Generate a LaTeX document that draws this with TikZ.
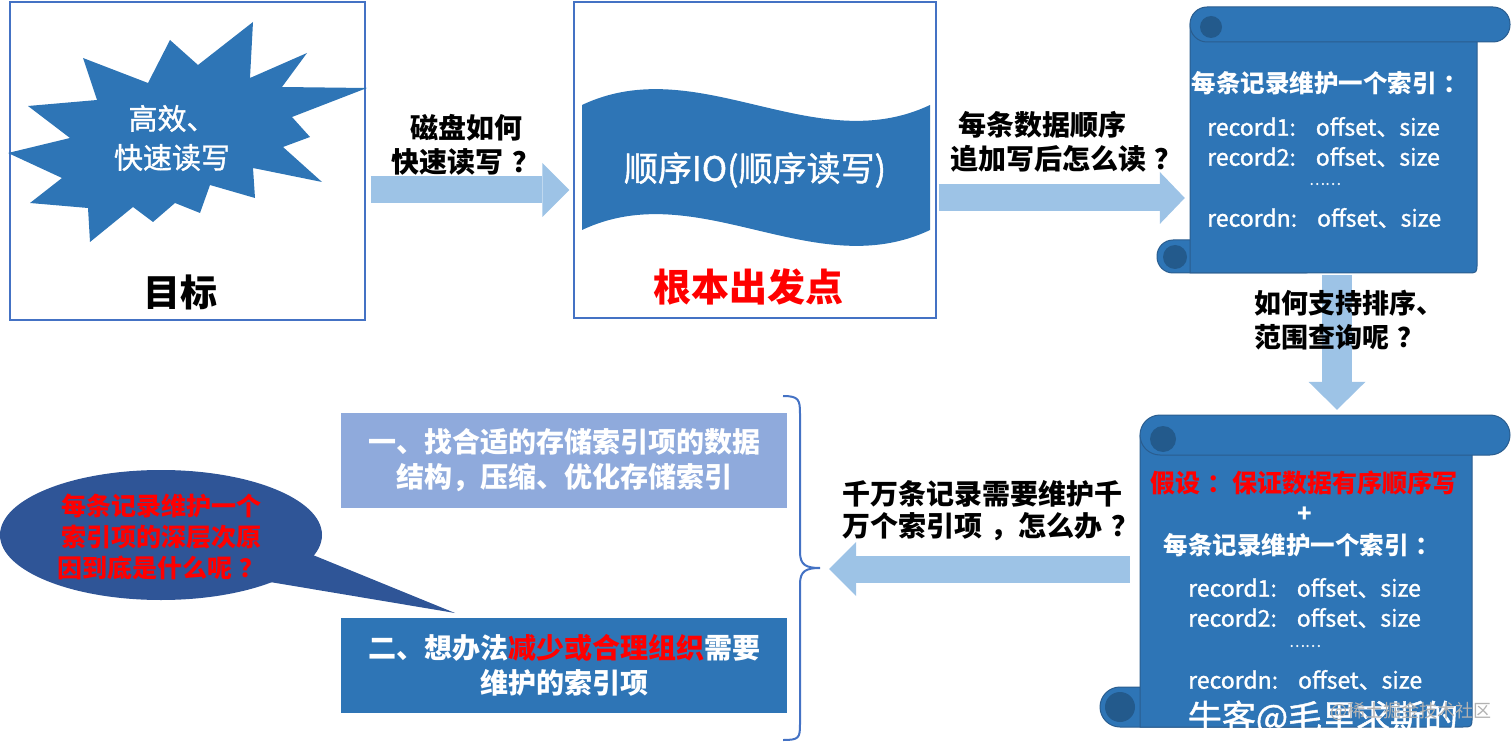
\documentclass[tikz,border=0pt]{standalone}
\usepackage{fontspec}
\setmainfont{Noto Sans CJK SC}
\newfontfamily\medf{Noto Sans CJK SC}[FakeBold=1.2]
\usetikzlibrary{arrows.meta}
\definecolor{frame}{HTML}{4472C4}
\definecolor{mblue}{HTML}{2E75B6}
\definecolor{dblue}{HTML}{2F5597}
\definecolor{lblue}{HTML}{9DC3E6}
\definecolor{pblue}{HTML}{8FAADC}
\definecolor{curl}{HTML}{235A8C}
\definecolor{sline}{HTML}{2A5D8F}
\definecolor{wred}{HTML}{FF0000}
\newcommand{\qm}{\hspace{0.3em}？}
\newcommand{\cn}{\hspace{0.3em}：}
\begin{document}
\begin{tikzpicture}[x=1pt,y=-1pt,
  panel/.style={draw=frame, line width=1.2pt, inner sep=0pt},
  bigarrow/.style={draw=lblue, line width=27pt, -{Triangle[length=27pt,width=54pt,line width=0pt]}},
  qlabel/.style={font=\bfseries\fontsize{28}{34}\selectfont, align=center, inner sep=0pt},
  scrollpart/.style={fill=mblue, draw=sline, line width=1pt},
  rec/.style={text=white, font=\medf\fontsize{23}{28}\selectfont, inner sep=0pt, anchor=west},
  dots/.style={text=white, font=\medf\fontsize{15}{16}\selectfont, inner sep=0pt},
  hdr/.style={text=white, font=\bfseries\fontsize{24.5}{30}\selectfont, inner sep=0pt},
  sol/.style={text=white, font=\bfseries\fontsize{28}{35}\selectfont, align=center, inner sep=0pt, minimum width=446pt, minimum height=95pt}
]
\useasboundingbox (0,0) rectangle (1512,743);

% ---- goal panel
\node[panel, minimum width=355pt, minimum height=318pt] (goal) at (187.5,161) {};
\fill[mblue] (253,22) -- (250,78) -- (307,53) -- (282,87) -- (367,88) -- (292,117) -- (310,137) -- (283,147) -- (322,182) -- (253,168) -- (255,198) -- (210,185) -- (200,213) -- (175,203) -- (153,222) -- (133,207) -- (90,242) -- (88,208) -- (30,203) -- (62,178) -- (8,153) -- (70,138) -- (28,106) -- (97,100) -- (83,58) -- (148,83) -- (170,40) -- (198,65) -- cycle;
\node[text=white, font=\medf\fontsize{29}{39}\selectfont, align=center, inner sep=0pt] (burst) at (172,138) {高效、\\快速读写};
\node[font=\bfseries\fontsize{37}{40}\selectfont, inner sep=0pt] (goaltxt) at (180,292) {目标};

% ---- sequential IO panel
\node[panel, minimum width=362pt, minimum height=316pt] (io) at (755,160) {};
\fill[mblue] (582,105) .. controls (698,50) and (814,160) .. (930,105) -- (930,230) .. controls (814,285) and (698,175) .. (582,230) -- cycle;
\node[text=white, font=\medf\fontsize{34}{40}\selectfont, inner sep=0pt] (iotxt) at (755,170) {顺序IO(顺序读写)};
\node[text=wred, font=\bfseries\fontsize{38}{42}\selectfont, inner sep=0pt] (root) at (748,287) {根本出发点};

% ---- scroll 1
\filldraw[scrollpart, rounded corners=16pt] (1157,240) rectangle (1320,273);
\filldraw[scrollpart] (1190,24) -- (1477,24) -- (1477,263) .. controls (1477,273) .. (1467,273) -- (1190,273) -- cycle;
\fill[curl] (1175,257) circle (12pt);
\filldraw[scrollpart, rounded corners=17pt] (1190,7) rectangle (1510,42);
\fill[curl] (1211,27) circle (11pt);
\node[minimum width=287pt, minimum height=266pt, inner sep=0pt] (s1) at (1333.5,140) {};
\node[hdr] (s1h) at (1330,83) {每条记录维护一个索引\cn};
\node[rec] (s1r1) at (1207,127) {record1:\hspace{20pt}offset、size};
\node[rec] (s1r2) at (1207,157) {record2:\hspace{20pt}offset、size};
\node[dots] (s1d) at (1325,184) {……};
\node[rec] (s1rn) at (1207,218) {recordn:\hspace{20pt}offset、size};

% ---- scroll 2
\filldraw[scrollpart, rounded corners=20pt] (1100,687) rectangle (1320,727);
\filldraw[scrollpart] (1140,435) -- (1472,435) -- (1472,717) .. controls (1472,727) .. (1462,727) -- (1140,727) -- cycle;
\fill[curl] (1120,707) circle (15pt);
\filldraw[scrollpart, rounded corners=20pt] (1140,415) rectangle (1510,455);
\fill[curl] (1163,439) circle (13pt);
\node[minimum width=332pt, minimum height=312pt, inner sep=0pt] (s2) at (1306,571) {};
\node[text=wred, font=\bfseries\fontsize{25}{30}\selectfont, inner sep=0pt] (s2a) at (1304,483) {假设\cn 保证数据有序顺序写};
\node[text=white, font=\bfseries\fontsize{24}{28}\selectfont, inner sep=0pt] (s2p) at (1305,515) {+};
\node[hdr] (s2h) at (1302,545) {每条记录维护一个索引\cn};
\node[rec] (s2r1) at (1188,588) {record1:\hspace{20pt}offset、size};
\node[rec] (s2r2) at (1188,618) {record2:\hspace{20pt}offset、size};
\node[dots] (s2d) at (1305,646) {……};
\node[rec] (s2rn) at (1188,680) {recordn:\hspace{20pt}offset、size};

% ---- solution boxes
\node[sol, fill=pblue] (ba) at (564,460.5) {一、找合适的存储索引项的数据\\结构，压缩、优化存储索引};
\node[sol, fill=mblue] (bb) at (564,665.5) {二、想办法\textcolor{wred}{减少或合理组织}需要\\维护的索引项};

% ---- brace
\draw[frame, line width=2pt] (783,396) .. controls (799,396) and (800,400) .. (800,414) -- (800,552) .. controls (800,565) and (806,568) .. (820,568) .. controls (806,568) and (800,571) .. (800,584) -- (800,724) .. controls (800,738) and (799,740) .. (783,740);
\coordinate (bt) at (820,569);

% ---- callout
\fill[dblue] (161,535) ellipse [x radius=161pt, y radius=65pt];
\fill[dblue] (308,553) -- (455,613) -- (270,582) -- cycle;
\node[text=wred, font=\bfseries\fontsize{25}{31}\selectfont, align=center, inner sep=0pt] (why) at (161,537) {每条记录维护一个\\索引项的深层次原\\因到底是什么呢\qm};

% ---- connectors
\draw[bigarrow, shorten <=5pt, shorten >=4pt] ([yshift=-29pt]goal.east) -- ([yshift=-30pt]io.west);
\draw[bigarrow, -{Triangle[length=25pt,width=52pt,line width=0pt]}, shorten <=2pt, shorten >=5pt] ([yshift=-38pt]io.east) -- ([yshift=-58pt]s1.west);
\draw[bigarrow, line width=30pt, -{Triangle[length=28pt,width=57pt,line width=0pt]}, shorten <=2pt, shorten >=5pt] ([xshift=3.5pt]s1.south) -- ([xshift=31pt]s2.north);
\draw[bigarrow, shorten <=10pt, shorten >=9pt] ([yshift=2pt]s2.west) -- (bt);

% ---- connector labels
\node[qlabel] (l1) at (466,145) {磁盘如何\\快速读写\qm};
\node[qlabel, align=left, anchor=west] (l2) at (950,141.5) {\hspace{8pt}每条数据顺序\\追加写后怎么读\qm};
\node[qlabel, font=\bfseries\fontsize{27}{34}\selectfont, align=left, anchor=west] (l3) at (1254,320) {如何支持排序、\\范围查询呢\qm};
\node[qlabel, font=\bfseries\fontsize{28}{32}\selectfont, align=left, anchor=west] (l4) at (842,511) {千万条记录需要维护千\\万个索引项\hspace{0.3em}，怎么办\qm};

% ---- watermark
\node[text=white, font=\medf\fontsize{34}{36}\selectfont, inner sep=0pt] (wm1) at (1323,718) {牛客@毛里求斯的};
\node[text=gray!60, font=\fontsize{18}{20}\selectfont, inner sep=0pt] (wm2) at (1411,711) {@稀土掘金技术社区};
\end{tikzpicture}
\end{document}
